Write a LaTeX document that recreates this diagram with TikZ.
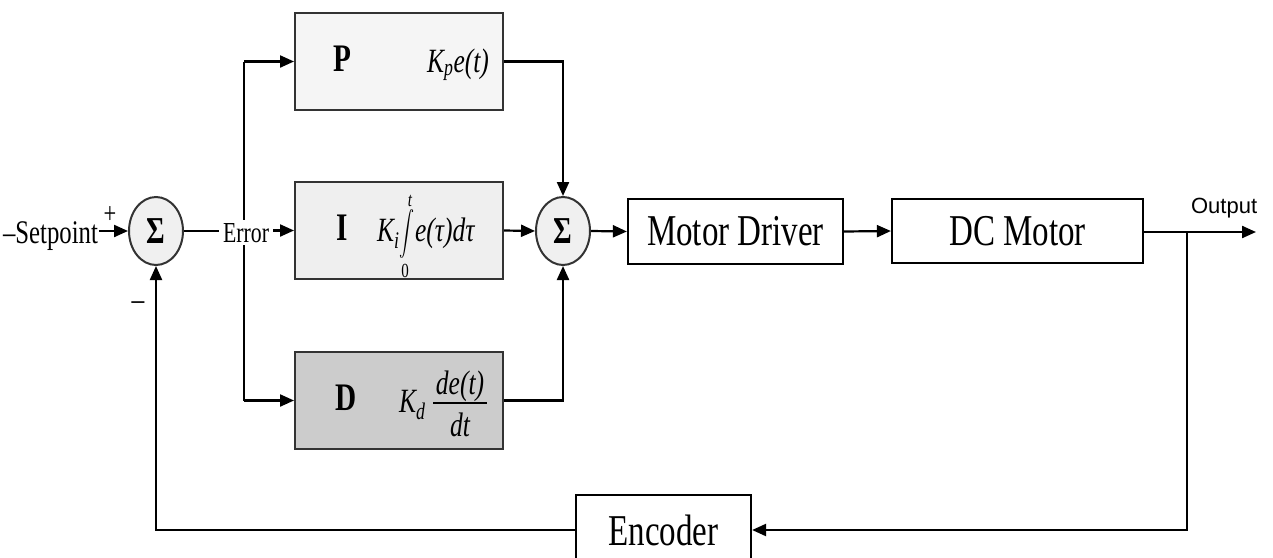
\documentclass[tikz,border=0pt]{standalone}
\usepackage{graphicx}
\usepackage{fontspec}
\usetikzlibrary{shapes.geometric,arrows.meta,backgrounds}
\setmainfont{Liberation Serif}
\newfontfamily\tms[FakeStretch=0.75]{Liberation Serif}
\newfontfamily\arl{Liberation Sans}
\newcommand\fsz[1]{\fontsize{#1}{#1}\selectfont}
\definecolor{pfill}{HTML}{F5F5F5}
\definecolor{ifill}{HTML}{EFEFEF}
\definecolor{dfill}{HTML}{CCCCCC}
\definecolor{sfill}{HTML}{F0F0F0}
\definecolor{edge}{HTML}{333333}
\begin{document}
\begin{tikzpicture}[x=1pt,y=-1pt,line width=2.2pt,
  arr/.style={-{Triangle[length=14pt,width=12pt]}},
  conn/.style={line width=2.2pt,draw=black},
  pidbox/.style={draw=edge,line width=2pt,minimum width=208pt,minimum height=97pt,inner sep=0},
  plainbox/.style={draw=black,line width=2.2pt,inner sep=0,font=\tms\fsz{44}},
  sumnode/.style={ellipse,draw=edge,fill=sfill,line width=2pt,minimum width=54pt,minimum height=68pt,inner sep=0,font=\tms\bfseries\fsz{38}},
  lbl/.style={inner sep=0},
  letter/.style={inner sep=0,anchor=base,font=\tms\bfseries\fsz{39}},
  formula/.style={inner sep=0,anchor=base west,font=\tms\itshape\fsz{34}}]
\useasboundingbox (0,0) rectangle (1273,557);
% blocks
\node[sumnode] (s1) at (156,231) {Σ};
\node[sumnode] (s2) at (563,231) {Σ};
\node[pidbox,fill=pfill] (P) at (399,61.5) {};
\node[pidbox,fill=ifill] (I) at (399,230.5) {};
\node[pidbox,fill=dfill] (D) at (399,400.5) {};
\node[plainbox,minimum width=215pt,minimum height=65pt] (md) at (735.5,231.5) {Motor Driver};
\node[plainbox,minimum width=251pt,minimum height=64pt] (dc) at (1017.5,231) {DC Motor};
\node[plainbox,minimum width=175pt,minimum height=70pt] (enc) at (663.5,530) {Encoder};
% texts
\node[lbl,anchor=base east,font=\tms\fsz{33}] (sp) at (99,243) {\textendash Setpoint};
\node[lbl,font=\tms\fsz{30}] (plus) at (110,215) {+};
\node[lbl,font=\tms\fsz{34}] (minus) at (138,306) {\textendash};
\node[inner sep=3pt,fill=white,anchor=base west,font=\tms\fsz{29}] (err) at (219,242) {Error};
\node[lbl,anchor=base west,font=\arl\fsz{22}] (outl) at (1190,213) {Output};
% P
\node[letter] (pl) at (342,71) {P};
\node[formula] (pf) at (426,72) {K\textsubscript{p}e(t)};
% I
\node[letter] (il) at (342,240) {I};
\node[formula] (ki) at (376,241) {K\textsubscript{i}};
\node[lbl] (int) at (407,234) {\scalebox{1.5}[2.2]{$\displaystyle\int$}};
\node[lbl,font=\tms\itshape\fsz{20}] (ut) at (410,201) {t};
\node[lbl,font=\tms\fsz{20}] (lz) at (405,271) {0};
\node[formula] (ie) at (414,241) {e(τ)dτ};
% D
\node[letter] (dl) at (346,410) {D};
\node[formula] (kd) at (398,412) {K\textsubscript{d}};
\node[formula,anchor=base] (num) at (460,394) {de(t)};
\node[formula,anchor=base] (den) at (460,436) {dt};
\draw[line width=1.4pt] (433,403) -- (487,403);
% coordinates
\coordinate (bt) at (244,61.5);
\coordinate (bb) at (244,400.5);
\coordinate (ob) at (1187,232);
\coordinate (out) at (1256,232);
\begin{scope}[on background layer,line width=2.2pt]
\draw[conn,arr] (sp.east |- s1.west) -- (s1.west);
\draw[conn] (s1.east) -- (err.west |- s1.east);
\draw[conn,arr] (err.east |- I.west) -- (I.west);
\draw[conn] (bt) -- (bb);
\draw[conn,arr] (bt) -- (P.west);
\draw[conn,arr] (bb) -- (D.west);
\draw[conn,arr] (P.east) -| (s2.north);
\draw[conn,arr] (D.east) -| (s2.south);
\draw[conn,arr] (I.east) -- (s2.west);
\draw[conn,arr] (s2.east) -- (md.west);
\draw[conn,arr] (md.east) -- (dc.west);
\draw[conn,arr] (dc.east |- out) -- (out);
\draw[conn,arr] (ob) |- (enc.east);
\draw[conn,arr] (enc.west) -| (s1.south);
\end{scope}
\end{tikzpicture}
\end{document}
